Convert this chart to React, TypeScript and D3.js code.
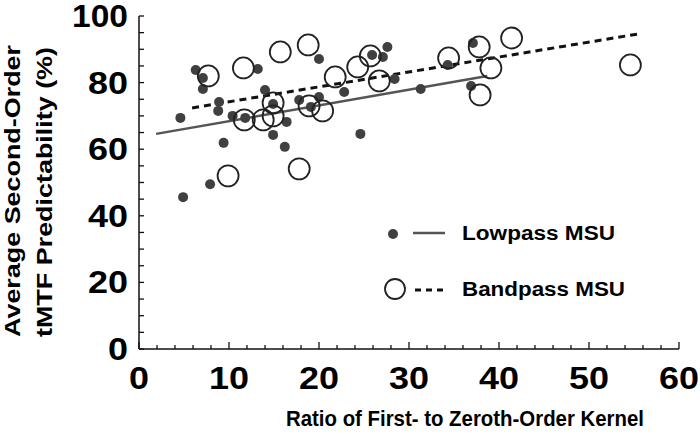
import React from "react";
import * as d3 from "d3";

// Lowpass MSU (filled dots)
const lowpassX = [4.6, 4.9, 7.9, 9.4, 6.3, 7.1, 7.1, 8.9, 8.8, 10.4, 11.8, 13.2, 14.0, 14.9, 16.4, 14.9, 16.2, 17.8, 19.1, 20.0, 20.0, 22.8, 24.6, 25.9, 27.1, 27.6, 28.4, 31.3, 34.3, 37.1, 36.9];
const lowpassY = [69.4, 45.6, 49.5, 61.9, 83.8, 81.4, 78.1, 74.2, 71.5, 70.0, 69.4, 84.1, 77.8, 73.6, 68.2, 64.3, 60.7, 74.8, 72.7, 75.7, 87.1, 77.2, 64.6, 88.3, 87.7, 90.7, 81.1, 78.1, 85.3, 91.9, 79.0];

// Bandpass MSU (open circles)
const bandpassX = [7.7, 9.9, 11.6, 11.7, 13.8, 14.9, 14.9, 15.7, 17.8, 18.8, 18.9, 20.4, 21.8, 24.3, 25.7, 26.7, 34.4, 37.8, 37.9, 39.1, 41.4, 54.6];
const bandpassY = [82.0, 52.0, 84.4, 68.8, 68.8, 73.9, 70.0, 89.2, 54.1, 91.3, 73.0, 71.5, 81.7, 84.7, 88.0, 80.5, 87.4, 90.7, 76.3, 84.4, 93.4, 85.3];

// Regression fits: [xStart, xEnd], intercept, slope
const lowpassFitRange = [1.9, 38.7];
const lowpassFit = { intercept: 63.7, slope: 0.473 };
const bandpassFitRange = [5.9, 55.4];
const bandpassFit = { intercept: 69.76, slope: 0.448 };

const xTickLabels = [0, 10, 20, 30, 40, 50, 60];
const yTickLabels = [0, 20, 40, 60, 80, 100];
const seriesNames = ["Lowpass MSU", "Bandpass MSU"];
const xTitle = "Ratio of First- to Zeroth-Order Kernel";
const yTitle = ["Average Second-Order", "tMTF Predictability (%)"];

export default function App() {
  const x = d3.scaleLinear().domain([0, 60]).range([139, 679]);
  const y = d3.scaleLinear().domain([0, 100]).range([349, 16]);
  const line = d3.line<number>().x((d) => x(d[0])).y((d) => y(d[1]));
  const lowPts: any = lowpassFitRange.map((v) => [v, lowpassFit.intercept + lowpassFit.slope * v]);
  const bandPts: any = bandpassFitRange.map((v) => [v, bandpassFit.intercept + bandpassFit.slope * v]);
  const xMinor = d3.range(0, 60.01, 2);
  const yMinor = d3.range(0, 100.01, 5);
  const font = "'Liberation Sans', Arial, sans-serif";
  const digitW = (s: string) => (s.length === 1 ? 20 : s.length === 2 ? 40 : 56);

  return (
    <svg width={700} height={434} style={{ position: "absolute", left: 0, top: 0, background: "#fff" }} fontFamily={font}>
      <rect width={700} height={434} fill="#fff" />
      {/* axes */}
      <line x1={x(0)} x2={x(0)} y1={y(0)} y2={y(100)} stroke="#111" strokeWidth={1.5} />
      <line x1={x(0)} x2={x(60)} y1={y(0)} y2={y(0)} stroke="#111" strokeWidth={1.5} />
      {xMinor.map((t) => (
        <line key={"xt" + t} x1={x(t)} x2={x(t)} y1={y(0)} y2={y(0) - (t % 10 === 0 ? 7 : 4)} stroke="#111" strokeWidth={1.3} />
      ))}
      {yMinor.map((t) => (
        <line key={"yt" + t} x1={x(0)} x2={x(0) + 5} y1={y(t)} y2={y(t)} stroke="#111" strokeWidth={1.3} />
      ))}
      {xTickLabels.map((t) => (
        <text key={"xl" + t} x={x(t)} y={389} fontSize={31} fontWeight="bold" textAnchor="middle" textLength={digitW(String(t))} lengthAdjust="spacingAndGlyphs">
          {t}
        </text>
      ))}
      {yTickLabels.map((t) => (
        <text key={"yl" + t} x={128} y={y(t) + 11} fontSize={31} fontWeight="bold" textAnchor="end" textLength={digitW(String(t))} lengthAdjust="spacingAndGlyphs">
          {t}
        </text>
      ))}
      {/* titles */}
      <text x={286} y={426} fontSize={22} fontWeight="bold" textLength={358} lengthAdjust="spacingAndGlyphs">
        {xTitle}
      </text>
      <text transform="translate(20,191) rotate(-90)" fontSize={22} fontWeight="bold" textAnchor="middle" textLength={292} lengthAdjust="spacingAndGlyphs">
        {yTitle[0]}
      </text>
      <text transform="translate(52,192) rotate(-90)" fontSize={22} fontWeight="bold" textAnchor="middle" textLength={290} lengthAdjust="spacingAndGlyphs">
        {yTitle[1]}
      </text>
      {/* fit lines */}
      <path d={line(lowPts) || ""} stroke="#555" strokeWidth={2.5} fill="none" />
      <path d={line(bandPts) || ""} stroke="#111" strokeWidth={3} strokeDasharray="7,5" fill="none" />
      {/* points */}
      {lowpassX.map((v, i) => (
        <circle key={"lp" + i} cx={x(v)} cy={y(lowpassY[i])} r={5} fill="#404040" />
      ))}
      {bandpassX.map((v, i) => (
        <circle key={"bp" + i} cx={x(v)} cy={y(bandpassY[i])} r={10.5} fill="none" stroke="#222" strokeWidth={1.8} />
      ))}
      {/* legend */}
      <circle cx={393} cy={234} r={5} fill="#404040" />
      <line x1={413} x2={445} y1={233} y2={233} stroke="#555" strokeWidth={2.5} />
      <text x={462} y={240} fontSize={20} fontWeight="bold" textLength={153} lengthAdjust="spacingAndGlyphs">
        {seriesNames[0]}
      </text>
      <circle cx={395} cy={289} r={10} fill="none" stroke="#222" strokeWidth={1.8} />
      <line x1={415} x2={443} y1={290} y2={290} stroke="#111" strokeWidth={3} strokeDasharray="6,5" />
      <text x={462} y={296} fontSize={20} fontWeight="bold" textLength={163} lengthAdjust="spacingAndGlyphs">
        {seriesNames[1]}
      </text>
    </svg>
  );
}
